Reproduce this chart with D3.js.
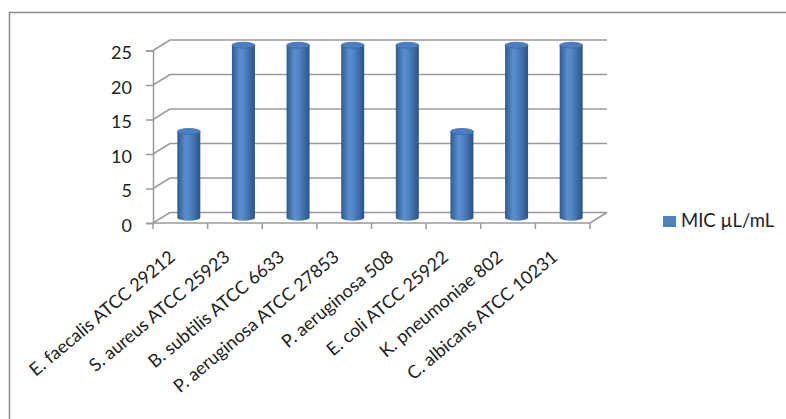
<!DOCTYPE html>
<html>
<head>
<meta charset="utf-8">
<script src="https://cdn.jsdelivr.net/npm/d3@7"></script>
<style>
  body { margin:0; background:#fff; }
  svg { display:block; font-family: Lato, "Open Sans", sans-serif; }
</style>
</head>
<body>
<svg width="786" height="419"></svg>
<script>
const strains = ['E. faecalis ATCC 29212','S. aureus ATCC 25923','B. subtilis ATCC 6633',
  'P. aeruginosa ATCC 27853','P. aeruginosa 508','E. coli ATCC 25922',
  'K. pneumoniae 802','C. albicans ATCC 10231'];
const mic = [12.5, 25, 25, 25, 25, 12.5, 25, 25];
const yTicks = [0, 5, 10, 15, 20, 25];
const seriesName = 'MIC \u00b5L/mL';

const svg = d3.select('svg');
const gridColor = '#9a9a9a';

// outer chart frame (runs off the right and bottom)
svg.append('rect')
  .attr('x', 9.5).attr('y', 12.5)
  .attr('width', 800).attr('height', 420)
  .attr('fill', 'none').attr('stroke', '#8c8c8c').attr('stroke-width', 1.5);

const plotLeft = 153, plotRight = 590, plotFloor = 223, plotTop = 50.5;
const dx = 17, dy = -10.5; // depth of the 3d box

const x = d3.scaleBand().domain(strains).range([plotLeft, plotRight]);
const y = d3.scaleLinear().domain([0, 25]).range([plotFloor, plotTop]);

const defs = svg.append('defs');
const grad = defs.append('linearGradient').attr('id', 'cyl');
grad.append('stop').attr('offset', '0%').attr('stop-color', '#2e5a8e');
grad.append('stop').attr('offset', '35%').attr('stop-color', '#5a8fd1');
grad.append('stop').attr('offset', '55%').attr('stop-color', '#4f83c4');
grad.append('stop').attr('offset', '100%').attr('stop-color', '#2b5388');

const g = svg.append('g');

// back wall gridlines + left side diagonals
yTicks.forEach(t => {
  const yy = y(t);
  g.append('path')
    .attr('d', `M${plotLeft},${yy}L${plotLeft + dx},${yy + dy}L${plotRight + dx},${yy + dy}`)
    .attr('fill', 'none').attr('stroke', gridColor).attr('stroke-width', 1.5);
});
// floor right edge
g.append('path')
  .attr('d', `M${plotRight},${plotFloor}L${plotRight + dx},${plotFloor + dy}`)
  .attr('fill', 'none').attr('stroke', gridColor).attr('stroke-width', 1.5);

// y axis
const yAxis = d3.axisLeft(y).tickValues(yTicks).tickSize(7).tickPadding(14);
const yG = svg.append('g').attr('transform', `translate(${plotLeft},0)`).call(yAxis);
yG.select('.domain').attr('stroke', gridColor).attr('stroke-width', 1.5);
yG.selectAll('.tick line').attr('stroke', gridColor).attr('stroke-width', 1.5);
yG.selectAll('.tick text').attr('font-size', 18).attr('fill', '#222')
  .attr('font-family', 'Lato, sans-serif').attr('dy', '0.45em');

// x axis: line with ticks at band boundaries
const bounds = d3.range(strains.length + 1).map(i => plotLeft + i * x.step());
const xG = svg.append('g');
xG.append('line').attr('x1', plotLeft).attr('x2', plotRight).attr('y1', plotFloor).attr('y2', plotFloor)
  .attr('stroke', gridColor).attr('stroke-width', 1.5);
xG.selectAll('.xt').data(bounds).enter().append('line')
  .attr('x1', d => d).attr('x2', d => d)
  .attr('y1', plotFloor).attr('y2', plotFloor + 6)
  .attr('stroke', gridColor).attr('stroke-width', 1.5);
xG.selectAll('.xl').data(strains).enter().append('text')
  .attr('transform', d => `translate(${x(d) + x.bandwidth() / 2 - 4},${plotFloor + 36}) rotate(-40)`)
  .attr('text-anchor', 'end')
  .attr('font-size', 18)
  .attr('fill', '#222')
  .text(d => d);

// cylinders, placed at half depth
const rx = 11.5, ry = 3;
const bars = svg.append('g').selectAll('g').data(strains).enter().append('g')
  .attr('transform', `translate(${dx / 2},${dy / 2})`);
bars.append('path')
  .attr('d', (d, i) => {
    const cx = x(d) + x.bandwidth() / 2, y0 = y(0), y1 = y(mic[i]);
    return `M${cx - rx},${y1}L${cx - rx},${y0}A${rx},${ry} 0 0 0 ${cx + rx},${y0}L${cx + rx},${y1}Z`;
  })
  .attr('fill', 'url(#cyl)');
bars.append('ellipse')
  .attr('cx', d => x(d) + x.bandwidth() / 2)
  .attr('cy', (d, i) => y(mic[i]))
  .attr('rx', rx).attr('ry', ry)
  .attr('fill', '#4a7fc0').attr('stroke', '#3a6aa6').attr('stroke-width', 0.8);

// legend
const lg = svg.append('g').attr('transform', 'translate(663,216)');
lg.append('rect').attr('width', 13).attr('height', 11).attr('fill', '#4f81bd');
lg.append('text').attr('x', 18).attr('y', 11).attr('font-size', 18.5).attr('fill', '#222')
  .text(seriesName);
</script>
</body>
</html>
